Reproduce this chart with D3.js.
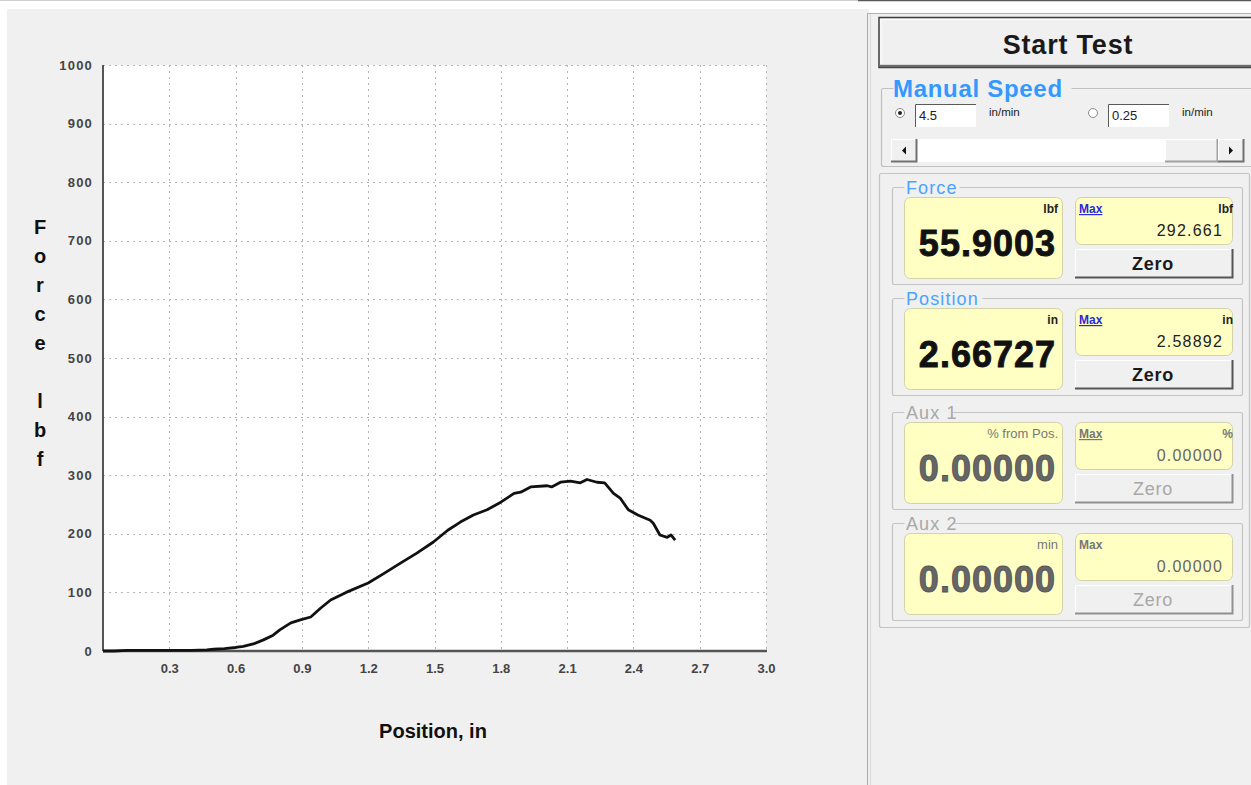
<!DOCTYPE html>
<html>
<head>
<meta charset="utf-8">
<script src="https://cdn.jsdelivr.net/npm/d3@7/dist/d3.min.js"></script>
<style>
  html, body { margin: 0; padding: 0; background: #ffffff; }
  svg { display: block; }
  text { font-family: "Liberation Sans", Arial, sans-serif; }
</style>
</head>
<body>
<svg id="app" width="1251" height="785"></svg>
<script>
// Force vs. position trace (inches, lbf)
const positions = [0, 0.05, 0.11, 0.2, 0.3, 0.4, 0.47, 0.5, 0.55, 0.6, 0.635, 0.68, 0.726, 0.77,
  0.80, 0.85, 0.893, 0.94, 0.984, 1.03, 1.1, 1.2, 1.27, 1.346, 1.42, 1.495, 1.56, 1.617, 1.676,
  1.738, 1.8, 1.86, 1.89, 1.935, 2.01, 2.03, 2.07, 2.115, 2.16, 2.19, 2.235, 2.27, 2.31, 2.34,
  2.377, 2.42, 2.476, 2.49, 2.52, 2.553, 2.57, 2.589];
const forces = [0, 0, 1, 1, 1, 1, 2, 3, 4, 6, 8, 12, 19, 27,
  36, 48, 53, 58, 73, 87, 100, 116, 132, 150, 167, 186, 206, 220, 232,
  241, 254, 269, 271, 280, 282, 280, 288, 290, 287, 292.7, 288, 287, 269, 261,
  241, 232, 223, 218, 198, 194, 198, 189];

const xTicks = [0.3, 0.6, 0.9, 1.2, 1.5, 1.8, 2.1, 2.4, 2.7, 3.0];
const yTicks = [0, 100, 200, 300, 400, 500, 600, 700, 800, 900, 1000];
const xTitle = "Position, in";
const yTitleLetters = ["F", "o", "r", "c", "e", "", "l", "b", "f"];

// Readout panels on the right
const readoutNames = ["Force", "Position", "Aux 1", "Aux 2"];
const readoutValues = ["55.9003", "2.66727", "0.00000", "0.00000"];
const readoutUnits = ["lbf", "in", "% from Pos.", "min"];
const maxUnits = ["lbf", "in", "%", ""];
const maxValues = ["292.661", "2.58892", "0.00000", "0.00000"];
const readoutEnabled = [true, true, false, false];
const speedValues = ["4.5", "0.25"];

const svg = d3.select("#app");

// ---------- window background ----------
svg.append("rect").attr("x", 0).attr("y", 0).attr("width", 1251).attr("height", 785).attr("fill", "#ffffff");
svg.append("rect").attr("x", 7).attr("y", 9).attr("width", 862).attr("height", 776).attr("fill", "#f0f0f0");
svg.append("line").attr("x1", 0).attr("x2", 858).attr("y1", 0.5).attr("y2", 0.5).attr("stroke", "#d0d0d0");
svg.append("line").attr("x1", 858).attr("x2", 1251).attr("y1", 0.5).attr("y2", 0.5).attr("stroke", "#5a5a5a").attr("stroke-width", 1.5);

// right side control panel
svg.append("rect").attr("x", 867).attr("y", 13).attr("width", 390).attr("height", 780).attr("fill", "#f0f0f0");
svg.append("line").attr("x1", 867.5).attr("x2", 867.5).attr("y1", 13).attr("y2", 785).attr("stroke", "#a8a8a8");
svg.append("line").attr("x1", 870.5).attr("x2", 870.5).attr("y1", 14).attr("y2", 785).attr("stroke", "#d8d8d8");
svg.append("line").attr("x1", 867).attr("x2", 1251).attr("y1", 13.5).attr("y2", 13.5).attr("stroke", "#b0b0b0");

// ---------- chart ----------
const plot = { left: 103, right: 766, top: 65, bottom: 651 };
const x = d3.scaleLinear().domain([0, 3.0]).range([plot.left, plot.right]);
const y = d3.scaleLinear().domain([0, 1000]).range([plot.bottom, plot.top]);

svg.append("rect")
  .attr("x", plot.left).attr("y", plot.top)
  .attr("width", plot.right - plot.left).attr("height", plot.bottom - plot.top)
  .attr("fill", "#ffffff");

const grid = svg.append("g").attr("stroke", "#b4b4b4").attr("stroke-width", 1).attr("stroke-dasharray", "2,4");
grid.selectAll("line.gx").data(xTicks).join("line").attr("class", "gx")
  .attr("x1", d => Math.round(x(d)) + 0.5).attr("x2", d => Math.round(x(d)) + 0.5)
  .attr("y1", plot.top).attr("y2", plot.bottom);
grid.selectAll("line.gy").data(yTicks.filter(d => d > 0)).join("line").attr("class", "gy")
  .attr("x1", plot.left).attr("x2", plot.right)
  .attr("y1", d => Math.round(y(d)) + 0.5).attr("y2", d => Math.round(y(d)) + 0.5);

const yAxis = svg.append("g").attr("transform", `translate(${plot.left},0)`)
  .call(d3.axisLeft(y).tickValues(yTicks).tickSize(0).tickPadding(10).tickFormat(d3.format("d")));
yAxis.select(".domain").attr("stroke", "#555").attr("stroke-width", 2).attr("d", `M0,${plot.top}V${plot.bottom}`);
yAxis.selectAll("text").attr("font-family", "'Liberation Sans', Arial, sans-serif")
  .attr("font-size", 13).attr("font-weight", "bold").attr("fill", "#444")
  .attr("letter-spacing", 1.2);

const xAxis = svg.append("g").attr("transform", `translate(0,${plot.bottom})`)
  .call(d3.axisBottom(x).tickValues(xTicks).tickSize(0).tickPadding(13).tickFormat(d3.format(".1f")));
xAxis.select(".domain").attr("stroke", "#555").attr("stroke-width", 2.5).attr("d", `M${plot.left},0H${plot.right + 1}`);
xAxis.selectAll("text").attr("font-family", "'Liberation Sans', Arial, sans-serif")
  .attr("font-size", 13).attr("font-weight", "bold").attr("fill", "#444");

const trace = positions.map((p, i) => [p, forces[i]]);
svg.append("path")
  .datum(trace)
  .attr("fill", "none")
  .attr("stroke", "#111")
  .attr("stroke-width", 2.8)
  .attr("stroke-linejoin", "round")
  .attr("d", d3.line().x(d => x(d[0])).y(d => y(d[1])));

svg.append("text").attr("x", 433).attr("y", 738).attr("text-anchor", "middle")
  .attr("font-size", 20).attr("font-weight", "bold").attr("fill", "#111").text(xTitle);

svg.append("g").selectAll("text").data(yTitleLetters).join("text")
  .attr("x", 40).attr("y", (d, i) => 234 + i * 29)
  .attr("text-anchor", "middle").attr("font-size", 20).attr("font-weight", "bold").attr("fill", "#111")
  .text(d => d);

// ---------- control panel widgets ----------
const ui = svg.append("g");

function raised(g, x0, y0, w, h, dark) {
  g.append("rect").attr("x", x0).attr("y", y0).attr("width", w).attr("height", h).attr("fill", "#f0f0f0");
  g.append("path").attr("d", `M${x0 + 0.5},${y0 + h}V${y0 + 0.5}H${x0 + w}`).attr("fill", "none").attr("stroke", "#ffffff");
  g.append("path").attr("d", `M${x0},${y0 + h - 0.5}H${x0 + w - 0.5}V${y0}`).attr("fill", "none")
    .attr("stroke", dark).attr("stroke-width", 2);
}

// Start Test button
ui.append("rect").attr("x", 879).attr("y", 17.5).attr("width", 380).attr("height", 50).attr("fill", "#f0f0f0")
  .attr("stroke", "#3c3c3c").attr("stroke-width", 1.5);
ui.append("rect").attr("x", 881).attr("y", 19.5).attr("width", 380).attr("height", 45).attr("fill", "none")
  .attr("stroke", "#ffffff").attr("stroke-width", 1);
ui.append("line").attr("x1", 880).attr("x2", 1251).attr("y1", 66).attr("y2", 66).attr("stroke", "#6a6a6a").attr("stroke-width", 2.5);
ui.append("text").attr("x", 1068).attr("y", 54).attr("text-anchor", "middle")
  .attr("font-size", 27).attr("font-weight", "bold").attr("letter-spacing", 0.8)
  .attr("fill", "#1a1a1a").text("Start Test");

// Manual Speed group
function groupBox(g, x0, y0, x1, y1, labelW, stroke) {
  g.append("path")
    .attr("d", `M${x0 + 12},${y0}H${x0 + 2}Q${x0},${y0} ${x0},${y0 + 2}V${y1 - 2}Q${x0},${y1} ${x0 + 2},${y1}H${x1 - 2}Q${x1},${y1} ${x1},${y1 - 2}V${y0 + 2}Q${x1},${y0} ${x1 - 2},${y0}H${x0 + 12 + labelW}`)
    .attr("fill", "none").attr("stroke", stroke).attr("stroke-width", 1.2);
}
groupBox(ui, 881.5, 88.5, 1262, 166.5, 178, "#c0c0c0");
ui.append("text").attr("x", 893).attr("y", 97).attr("font-size", 24).attr("font-weight", "bold")
  .attr("letter-spacing", 0.7).attr("fill", "#3399ff").text("Manual Speed");

const speedX = [900, 1093];
speedValues.forEach((v, i) => {
  const cx = speedX[i];
  ui.append("circle").attr("cx", cx).attr("cy", 113).attr("r", 4.5).attr("fill", "#ffffff").attr("stroke", "#8a8a8a");
  if (i === 0) ui.append("circle").attr("cx", cx).attr("cy", 113).attr("r", 2).attr("fill", "#222");
  const bx = cx + 15;
  ui.append("rect").attr("x", bx).attr("y", 104).attr("width", 61).attr("height", 23).attr("fill", "#ffffff");
  ui.append("path").attr("d", `M${bx + 0.5},${127}V${104.5}H${bx + 61}`).attr("fill", "none").attr("stroke", "#5a5a5a");
  ui.append("text").attr("x", bx + 4).attr("y", 120).attr("font-size", 13).attr("fill", "#222").text(v);
  ui.append("text").attr("x", bx + 74).attr("y", 116).attr("font-size", 11.5).attr("fill", "#222").text("in/min");
});

// speed scrollbar
ui.append("rect").attr("x", 891).attr("y", 139).attr("width", 353).attr("height", 23).attr("fill", "#ffffff");
raised(ui, 891, 139, 26, 23, "#707070");
raised(ui, 1165, 139, 53, 23, "#a0a0a0");
raised(ui, 1218, 139, 26, 23, "#707070");
ui.append("path").attr("d", "M902,150.5l4,-4v8z").attr("fill", "#111");
ui.append("path").attr("d", "M1233,150.5l-4,-4v8z").attr("fill", "#111");

// Readouts frame
ui.append("rect").attr("x", 879.5).attr("y", 173.5).attr("width", 370).attr("height", 454).attr("rx", 2)
  .attr("fill", "none").attr("stroke", "#c4c4c4").attr("stroke-width", 1.2);

const groupTops = [187, 298, 412, 523];
const labelWidths = [55, 78, 48, 48];
readoutNames.forEach((name, i) => {
  const top = groupTops[i];
  const on = readoutEnabled[i];
  const g = ui.append("g");
  const labelColor = on ? "#4aa3ff" : "#a8a8a8";
  const textColor = on ? "#111" : "#666";

  groupBox(g, 892.5, top + 0.5, 1242.5, top + 97.5, labelWidths[i], "#c4c4c4");
  g.append("text").attr("x", 906).attr("y", top + 7).attr("font-size", 18).attr("letter-spacing", 1.1)
    .attr("fill", labelColor).text(name);

  // main value display
  g.append("rect").attr("x", 904.5).attr("y", top + 10.5).attr("width", 158).attr("height", 81).attr("rx", 6)
    .attr("fill", "#ffffc4").attr("stroke", "#d2d2a8");
  g.append("text").attr("x", 1058).attr("y", top + 26).attr("text-anchor", "end")
    .attr("font-size", on ? 12 : 13).attr("font-weight", on ? "bold" : "normal")
    .attr("fill", on ? "#222" : "#777").text(readoutUnits[i]);
  g.append("text").attr("x", 1056).attr("y", top + 69).attr("text-anchor", "end")
    .attr("font-size", 36).attr("font-weight", "bold").attr("letter-spacing", 1.0)
    .attr("fill", textColor)
    .attr("stroke", on ? "#111" : "#555").attr("stroke-width", 0.9)
    .text(readoutValues[i]);

  // max display
  g.append("rect").attr("x", 1075.5).attr("y", top + 10.5).attr("width", 157).attr("height", 47).attr("rx", 6)
    .attr("fill", "#ffffc4").attr("stroke", "#d2d2a8");
  g.append("text").attr("x", 1079).attr("y", top + 26).attr("font-size", 12).attr("font-weight", "bold")
    .attr("fill", on ? "#2a2ad8" : "#777")
    .attr("text-decoration", i < 3 ? "underline" : "none").text("Max");
  g.append("text").attr("x", 1233).attr("y", top + 26).attr("text-anchor", "end").attr("font-size", 12)
    .attr("font-weight", "bold").attr("fill", on ? "#222" : "#777").text(maxUnits[i]);
  g.append("text").attr("x", 1223).attr("y", top + 49).attr("text-anchor", "end")
    .attr("font-family", "'DejaVu Sans', Verdana, sans-serif").attr("font-size", 16)
    .attr("letter-spacing", 1.2)
    .attr("fill", on ? "#222" : "#666").text(maxValues[i]);

  // zero button
  const zy = top + 62;
  raised(g, 1075, zy, 158, 29, on ? "#555" : "#909090");
  g.append("text").attr("x", 1153).attr("y", zy + 21).attr("text-anchor", "middle")
    .attr("font-size", 18).attr("font-weight", on ? "bold" : "normal").attr("letter-spacing", 0.8)
    .attr("fill", on ? "#1a1a1a" : "#a8a8a8").text("Zero");
});
</script>
</body>
</html>
